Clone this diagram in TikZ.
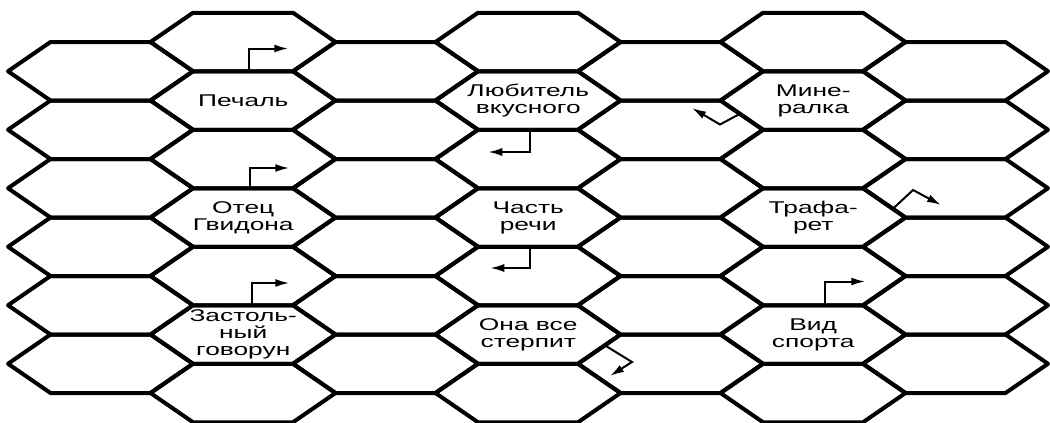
\documentclass[tikz,border=0pt]{standalone}
\usepackage{fontspec}
\newfontfamily\wide[FakeStretch=1.55]{Liberation Sans}
\usetikzlibrary{arrows.meta}
\begin{document}
\begin{tikzpicture}[x=1pt,y=-1pt,
  hexline/.style={line width=4pt, line join=round},
  lbl/.style={font=\wide\fontsize{17}{17}\selectfont, align=center, inner sep=0pt},
  bent/.style={line width=2pt, -{Latex[length=14pt,width=8pt]}}]
\useasboundingbox (0,0) rectangle (1050,423);
\foreach \c in {1,...,7}{
  \pgfmathsetmacro\cx{100.75+142.5*(\c-1)}
  \ifodd\c \def\nr{5}\def\yo{71.25}\else \def\nr{6}\def\yo{42}\fi
  \foreach \k in {0,...,\nr}{
    \pgfmathsetmacro\cy{\yo+58.5*\k}
    \coordinate (h\c-\k) at (\cx,\cy);
    \draw[hexline] (\cx-92.75,\cy) -- ++(42.5,-29.25) -- ++(100,0) -- ++(42.5,29.25) -- ++(-42.5,29.25) -- ++(-100,0) -- cycle;
  }
}
\node[lbl] (pechal) at (h2-1) {Печаль};
\node[lbl] (otec) at (h2-3) {Отец\\Гвидона};
\node[lbl] (zast) at (h2-5) {Застоль-\\ный\\говорун};
\node[lbl] (lub) at (h4-1) {Любитель\\вкусного};
\node[lbl] (chast) at (h4-3) {Часть\\речи};
\node[lbl] (ona) at (h4-5) {Она все\\стерпит};
\node[lbl] (mine) at (h6-1) {Мине-\\ралка};
\node[lbl] (traf) at (h6-3) {Трафа-\\рет};
\node[lbl] (vid) at (h6-5) {Вид\\спорта};
% bent arrows
\coordinate (a1s) at ([shift={(6,-29.25)}]h2-1);
\coordinate (a1e) at ([shift={(45,-52)}]h2-1);
\coordinate (a2s) at ([shift={(7,-29.25)}]h2-3);
\coordinate (a2e) at ([shift={(46,-49.5)}]h2-3);
\coordinate (a3s) at ([shift={(9,-29.25)}]h2-5);
\coordinate (a3e) at ([shift={(46,-51.5)}]h2-5);
\coordinate (a9s) at ([shift={(12,-29.25)}]h6-5);
\coordinate (a9e) at ([shift={(52,-53)}]h6-5);
\coordinate (a4s) at ([shift={(2,29.25)}]h4-1);
\coordinate (a4e) at ([shift={(-40,51.5)}]h4-1);
\coordinate (a5s) at ([shift={(2,29.25)}]h4-3);
\coordinate (a5e) at ([shift={(-38,50.5)}]h4-3);
\coordinate (a6s) at (605,345.4);
\coordinate (a6m) at (632,362);
\coordinate (a6e) at (610,376);
\coordinate (a7s) at (740,113.8);
\coordinate (a7m) at (720,124.5);
\coordinate (a7e) at (692,108);
\coordinate (a8s) at (893,208.7);
\coordinate (a8m) at (913,190);
\coordinate (a8e) at (941,205);
\draw[bent] (a1s) |- (a1e);
\draw[bent] (a2s) |- (a2e);
\draw[bent] (a3s) |- (a3e);
\draw[bent] (a9s) |- (a9e);
\draw[bent] (a4s) |- (a4e);
\draw[bent] (a5s) |- (a5e);
\draw[bent] (a6s) -- (a6m) -- (a6e);
\draw[bent] (a7s) -- (a7m) -- (a7e);
\draw[bent] (a8s) -- (a8m) -- (a8e);
\end{tikzpicture}
\end{document}
